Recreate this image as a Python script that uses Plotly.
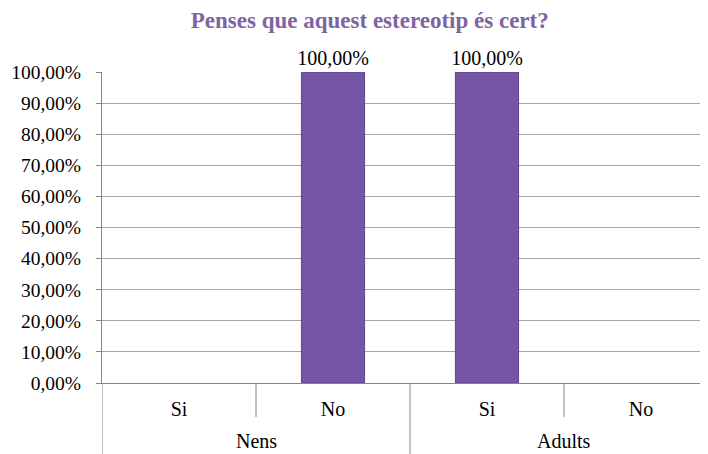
import plotly.graph_objects as go

groups = ["Nens", "Nens", "Adults", "Adults"]
answers = ["Si", "No", "Si", "No"]
values = [None, 1.0, 1.0, None]

SERIF = "Liberation Serif, Times New Roman, serif"
AXIS = "#868686"

cats = [f"{g} {a}" for g, a in zip(groups, answers)]

fig = go.Figure(go.Bar(
    x=cats,
    y=values,
    width=0.41,
    marker=dict(color="#7555A5", line=dict(color="#5E4585", width=1)),
    texttemplate="%{y:.2%}",
    textposition="outside",
    constraintext="none",
    textfont=dict(family=SERIF, size=20, color="#000000"),
    cliponaxis=False,
))

# group labels and dividers below the axis
for g in dict.fromkeys(groups):
    idx = [i for i, gg in enumerate(groups) if gg == g]
    fig.add_annotation(x=(idx[0] + idx[-1]) / 2, y=-0.1865, xref="x", yref="paper",
                       yanchor="middle", text=g, showarrow=False,
                       font=dict(family=SERIF, size=20, color="#000000"))

for i in range(len(cats) + 1):
    is_group_edge = i == 0 or i == len(cats) or groups[i] != groups[i - 1]
    fig.add_shape(type="line", xref="x", yref="paper",
                  x0=i - 0.5, x1=i - 0.5, y0=0, y1=-0.3 if is_group_edge else -0.1093,
                  line=dict(color=AXIS, width=1))

fig.update_layout(
    width=708, height=454,
    margin=dict(t=64, b=79, l=94, r=0),
    paper_bgcolor="white", plot_bgcolor="white",
    separators=", ",
    showlegend=False,
    title=dict(text="<b>Penses que aquest estereotip és cert?</b>", x=0.511, xanchor="center",
               y=0.974, yanchor="middle", font=dict(family=SERIF, size=23, color="#8064A2")),
    font=dict(family=SERIF, size=20, color="#000000"),
)
fig.update_yaxes(
    range=[0, 1], tickformat=".2%", dtick=0.1, automargin=False,
    showgrid=True, gridcolor="#A6A6A6", gridwidth=1,
    showline=True, linecolor=AXIS, linewidth=1,
    ticks="outside", ticklen=5, tickcolor=AXIS, ticklabelstandoff=11,
    tickfont=dict(family=SERIF, size=19.5),
    zeroline=False,
)
fig.update_xaxes(
    range=[-0.5, 3.487], automargin=False,
    tickvals=cats, ticktext=answers, ticklabelstandoff=8,
    showline=True, linecolor=AXIS, linewidth=1,
    ticks="", tickfont=dict(family=SERIF, size=20),
)

fig.write_html("out.html")
